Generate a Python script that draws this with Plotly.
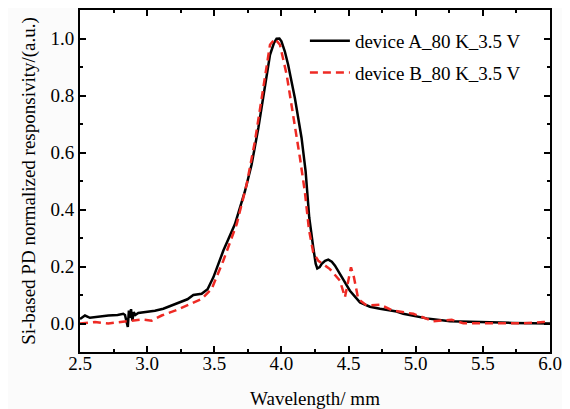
import plotly.graph_objects as go

# Device A (black, solid)
wl_a = [2.5, 2.537, 2.574, 2.65, 2.711, 2.78, 2.822, 2.835, 2.848, 2.856, 2.864, 2.872, 2.88, 2.89, 2.9, 2.912,
        2.934, 3.0, 3.058, 3.12, 3.183, 3.257, 3.3, 3.344, 3.406, 3.45, 3.493, 3.567, 3.654, 3.729, 3.778, 3.828,
        3.877, 3.915, 3.945, 3.964, 3.985, 4.0, 4.025, 4.05, 4.10, 4.15, 4.18, 4.207, 4.237, 4.255, 4.267, 4.285,
        4.30, 4.325, 4.349, 4.375, 4.399, 4.449, 4.51, 4.585, 4.659, 4.734, 4.858, 4.907, 5.081, 5.255, 5.478,
        5.72, 6.0]
resp_a = [0.016, 0.028, 0.02, 0.025, 0.028, 0.03, 0.034, 0.03, 0.0, -0.012, 0.045, 0.02, 0.05, 0.01, 0.04, 0.03,
          0.037, 0.04, 0.045, 0.052, 0.063, 0.075, 0.085, 0.10, 0.104, 0.12, 0.162, 0.255, 0.349, 0.465, 0.558, 0.686,
          0.838, 0.943, 0.985, 0.999, 1.0, 0.99, 0.955, 0.908, 0.791, 0.651, 0.535, 0.372, 0.267, 0.21, 0.193, 0.198,
          0.209, 0.22, 0.224, 0.217, 0.203, 0.162, 0.115, 0.074, 0.059, 0.052, 0.042, 0.034, 0.018, 0.008, 0.004,
          0.002, 0.0]

# Device B (red, dashed)
wl_b = [2.5, 2.612, 2.711, 2.81, 2.9, 2.959, 3.034, 3.108, 3.207, 3.332, 3.406, 3.48, 3.567, 3.667, 3.741, 3.803,
        3.865, 3.915, 3.952, 3.989, 4.039, 4.088, 4.138, 4.175, 4.205, 4.237, 4.275, 4.32, 4.361, 4.436, 4.473,
        4.498, 4.518, 4.54, 4.572, 4.635, 4.734, 4.833, 4.982, 5.131, 5.268, 5.354, 5.528, 5.8, 5.95, 6.0]
resp_b = [0.0, 0.005, 0.0, 0.005, 0.012, 0.014, 0.01, 0.028, 0.045, 0.069, 0.086, 0.121, 0.22, 0.349, 0.488, 0.64,
          0.826, 0.978, 0.999, 0.978, 0.873, 0.733, 0.581, 0.46, 0.33, 0.249, 0.22, 0.205, 0.191, 0.15, 0.092,
          0.15, 0.197, 0.162, 0.086, 0.063, 0.066, 0.045, 0.034, 0.008, 0.013, 0.001, 0.0, 0.001, 0.005, 0.005]

name_a = "device A_80 K_3.5 V"
name_b = "device B_80 K_3.5 V"

x_ticks = [2.5, 3.0, 3.5, 4.0, 4.5, 5.0, 5.5, 6.0]
y_ticks = [0.0, 0.2, 0.4, 0.6, 0.8, 1.0]

FONT = "Liberation Serif"
FS = 19

fig = go.Figure()
fig.add_trace(go.Scatter(x=wl_a, y=resp_a, mode="lines", name=name_a, legendgroup="a",
                         line=dict(color="black", width=2.5)))
fig.add_trace(go.Scatter(x=wl_b, y=resp_b, mode="lines", name=name_b, legendgroup="b",
                         line=dict(color="#ee2a24", width=2.5, dash="8px,5px")))

axis_common = dict(showline=True, linecolor="black", linewidth=2, mirror="ticks",
                   ticks="inside", ticklen=6, tickwidth=1.5, tickcolor="black",
                   showgrid=False, zeroline=False, automargin=False,
                   tickfont=dict(family=FONT, size=FS, color="black"))

fig.update_xaxes(range=[2.5, 6.0], tickvals=x_ticks, ticktext=[f"{v:.1f}" for v in x_ticks],
                 ticklabelstandoff=-7,
                 minor=dict(ticks="inside", ticklen=3, tickwidth=1.5, tickcolor="black", dtick=0.25,
                            tick0=2.5, showgrid=False),
                 title=dict(text="Wavelength/ mm", font=dict(family=FONT, size=FS, color="black"), standoff=19),
                 **axis_common)
fig.update_yaxes(range=[-0.1, 1.1], tickvals=y_ticks, ticktext=[f"{v:.1f}" for v in y_ticks],
                 minor=dict(ticks="inside", ticklen=3, tickwidth=1.5, tickcolor="black", dtick=0.1,
                            tick0=0.0, showgrid=False),
                 title=dict(text="Si-based PD normalized responsivity/(a.u.)",
                            font=dict(family=FONT, size=FS, color="black"), standoff=10),
                 **axis_common)

# The page body has an 8px default margin, so the figure is sized to fit the 570x409 window.
fig.update_layout(
    width=562, height=401,
    margin=dict(l=72, r=20, t=2, b=57),
    paper_bgcolor="#fbfbfb", plot_bgcolor="#ffffff",
    showlegend=True,
    legend=dict(x=0.4785, y=0.965, xanchor="left", yanchor="top", bgcolor="rgba(0,0,0,0)",
                font=dict(family=FONT, size=FS, color="black"), itemwidth=40,
                traceorder="grouped", tracegroupgap=4),
)

fig.write_html("out.html")
